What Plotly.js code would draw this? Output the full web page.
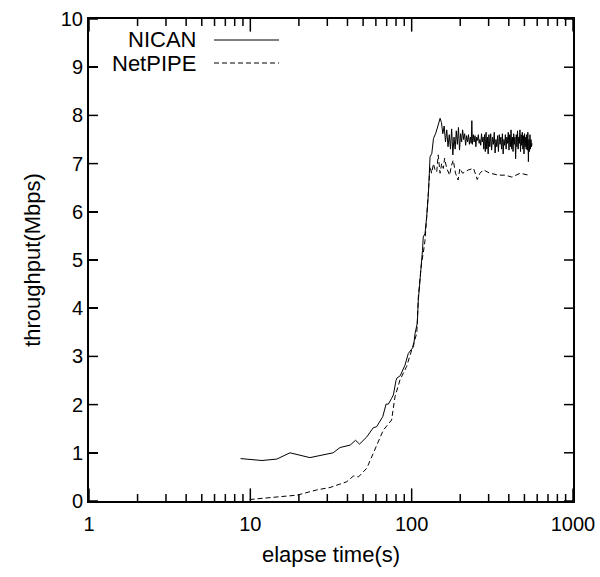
<!DOCTYPE html>
<html>
<head>
<meta charset="utf-8">
<script src="https://cdn.plot.ly/plotly-3.0.1.min.js"></script>
<style>html,body{margin:0;padding:0;background:#fff;}</style>
</head>
<body>
<div id="chart" style="width:600px;height:577px;"></div>
<script>
// NICAN series
const nicanX = [8.7, 11.8, 14.6, 17.6, 23.4, 32.6, 36, 41.6, 44.9, 47.5, 52.7, 57.8, 60.6, 66.2, 69.4, 71.7, 75.1, 77, 80, 81, 85, 90.9, 95.3, 102.6, 105, 108.4, 110, 112.6, 115, 116.7, 118, 121, 123.9, 127, 130, 133.3, 136.5, 141, 146, 150,
  153, 156, 159, 162, 165, 168, 171, 174, 177, 180, 183, 186, 189, 192, 195, 198, 201, 204, 207, 210, 213, 216, 219, 222, 225, 228, 231, 234, 236, 238, 241, 244, 247, 250, 253, 256, 259, 262, 265, 268, 271, 274, 277, 280, 283, 286, 289, 292, 295, 298,
  301, 305, 309, 313, 317, 321, 325, 329, 333, 337, 341, 345, 349, 353, 357, 361, 365, 369, 373, 377, 381, 385, 389, 393, 397, 401, 405, 409, 413, 417, 421, 425, 429, 433, 437, 441, 445, 449, 453, 457, 461, 465, 469, 473, 477, 481, 485, 489, 493, 497,
  501, 505, 509, 513, 517, 521, 525, 529, 533, 537, 541, 545, 549, 553, 557];
const nicanY = [0.88, 0.84, 0.87, 1.0, 0.90, 1.0, 1.11, 1.16, 1.26, 1.18, 1.33, 1.52, 1.54, 1.75, 2.01, 2.01, 2.13, 2.2, 2.5, 2.55, 2.6, 2.82, 3.06, 3.2, 3.48, 3.69, 4.17, 4.52, 4.93, 5.2, 5.48, 5.55, 5.9, 6.38, 7.14, 7.21, 7.52, 7.63, 7.8, 7.94,
  7.85, 7.62, 7.78, 7.45, 7.7, 7.35, 7.6, 7.3, 7.72, 7.18, 7.55, 7.3, 7.68, 7.4, 7.75, 7.28, 7.62, 7.45, 7.7, 7.5, 7.62, 7.38, 7.58, 7.45, 7.6, 7.4, 7.55, 7.42, 7.89, 7.4, 7.6, 7.45, 7.58, 7.35, 7.55, 7.48, 7.6, 7.42, 7.5, 7.38, 7.62, 7.45, 7.55, 7.3, 7.6, 7.25, 7.65, 7.3, 7.55, 7.2,
  7.6, 7.35, 7.62, 7.28, 7.55, 7.4, 7.65, 7.22, 7.5, 7.35, 7.58, 7.25, 7.6, 7.4, 7.55, 7.3, 7.62, 7.2, 7.5, 7.38, 7.6, 7.3, 7.55, 7.42, 7.65, 7.28, 7.6, 7.35, 7.7, 7.3, 7.55, 7.25, 7.62, 7.4, 7.55, 7.1, 7.6, 7.35, 7.68, 7.3, 7.55, 7.42, 7.7, 7.25, 7.6, 7.38, 7.65, 7.3, 7.58, 7.2,
  7.62, 7.35, 7.55, 7.3, 7.6, 7.28, 7.65, 7.04, 7.5, 7.25, 7.6, 7.3, 7.5, 7.35, 7.42];

// NetPIPE series
const netpipeX = [9.9, 12, 15.3, 19.4, 25.8, 31.2, 39.6, 43.6, 46.8, 52.7, 59.3, 66.7, 75.1, 78.8, 84.6, 93, 100, 107.6, 110, 115, 118, 121, 124, 127, 130, 133, 136.5, 140, 143, 146, 150, 153.5, 157, 160, 165, 172, 176, 181, 187, 194, 199, 207, 215, 225, 242, 255, 265, 278, 306, 346, 380, 418, 470, 530];
const netpipeY = [0.03, 0.05, 0.09, 0.12, 0.23, 0.28, 0.40, 0.52, 0.50, 0.68, 1.09, 1.47, 1.68, 2.16, 2.51, 2.79, 3.13, 3.48, 4.24, 4.93, 5.14, 5.41, 5.9, 6.38, 6.94, 6.8, 7.0, 6.85, 6.83, 7.18, 6.8, 7.0, 6.9, 7.11, 6.9, 6.76, 6.95, 7.07, 6.8, 6.66, 6.9, 6.8, 6.83, 6.87, 6.9, 6.67, 6.8, 6.87, 6.8, 6.76, 6.76, 6.72, 6.8, 6.76];

const seriesNames = ["NICAN", "NetPIPE"];
const xTickVals = [1, 10, 100, 1000];
const xTickText = ["1", "10", "100", "1000"];
const xMinorVals = [2, 3, 4, 5, 6, 7, 8, 9, 20, 30, 40, 50, 60, 70, 80, 90, 200, 300, 400, 500, 600, 700, 800, 900];
const yTickVals = [0, 1, 2, 3, 4, 5, 6, 7, 8, 9, 10];
const Y_RANGE = [0, 10];

const FONT = "Liberation Sans, Arial, sans-serif";
const PW = 484, PH = 482;          // plot area size in px
const MAJ = 9, MIN = 5;            // tick lengths in px
const X_LOG_RANGE = [0, 3];

// x tick marks (bottom and top, inward): vertical-line markers centred on the
// frame, the outer half clipped away by the plot area
function tickMarkerTrace(vals, lenPx) {
  const xs = [], ys = [];
  vals.forEach(v => { xs.push(v, v); ys.push(Y_RANGE[0], Y_RANGE[1]); });
  return {
    x: xs, y: ys, mode: "markers", showlegend: false, hoverinfo: "skip", cliponaxis: true,
    marker: {symbol: "line-ns-open", size: 2 * lenPx, color: "#000", line: {color: "#000", width: 1.5}}
  };
}

const traces = [
  {x: nicanX, y: nicanY, mode: "lines", name: seriesNames[0], line: {color: "#000", width: 1}},
  {x: netpipeX, y: netpipeY, mode: "lines", name: seriesNames[1], line: {color: "#000", width: 1, dash: "5px,3px"}},
  tickMarkerTrace(xTickVals, MAJ),
  tickMarkerTrace(xMinorVals, MIN)
];

// y tick marks (left and right, inward)
const tickLine = {color: "#000", width: 1.5};
const shapes = [];
yTickVals.forEach(v => {
  shapes.push({type: "line", xref: "paper", yref: "y", x0: 0, x1: MAJ / PW, y0: v, y1: v, line: tickLine, layer: "above"});
  shapes.push({type: "line", xref: "paper", yref: "y", x0: 1 - MAJ / PW, x1: 1, y0: v, y1: v, line: tickLine, layer: "above"});
});
// legend (gnuplot style: label then sample line)
const legY = [(501 - 40) / PH, (501 - 63) / PH];
const legX0 = (214 - 89) / PW, legX1 = (279 - 89) / PW, legTextX = (198 - 89) / PW;
shapes.push({type: "line", xref: "paper", yref: "paper", x0: legX0, x1: legX1, y0: legY[0], y1: legY[0], line: {color: "#000", width: 1}});
shapes.push({type: "line", xref: "paper", yref: "paper", x0: legX0, x1: legX1, y0: legY[1], y1: legY[1], line: {color: "#000", width: 1, dash: "5px,3px"}});

const layout = {
  width: 600, height: 577,
  margin: {l: 89, r: 27, t: 19, b: 76},
  paper_bgcolor: "#fff", plot_bgcolor: "#fff",
  showlegend: false,
  font: {family: FONT, size: 20, color: "#000"},
  xaxis: {
    type: "log", range: X_LOG_RANGE,
    tickmode: "array", tickvals: xTickVals, ticktext: xTickText,
    ticks: "outside", ticklen: 4, tickwidth: 1, tickcolor: "rgba(0,0,0,0)",
    showline: true, linecolor: "#000", linewidth: 2, mirror: true,
    showgrid: false, zeroline: false,
    tickfont: {family: FONT, size: 20, color: "#000"},
    title: {text: "elapse time(s)", font: {family: FONT, size: 22, color: "#000"}, standoff: 13}
  },
  yaxis: {
    range: Y_RANGE,
    tickmode: "array", tickvals: yTickVals,
    ticks: "inside", ticklen: MAJ, tickwidth: 1.5, tickcolor: "#000",
    showline: true, linecolor: "#000", linewidth: 2, mirror: true,
    showgrid: false, zeroline: false,
    tickfont: {family: FONT, size: 20, color: "#000"},
    title: {text: "throughput(Mbps)", font: {family: FONT, size: 22, color: "#000"}, standoff: 14}
  },
  annotations: [
    {xref: "paper", yref: "paper", x: legTextX, y: legY[0], xanchor: "right", yanchor: "middle", text: seriesNames[0], showarrow: false, font: {family: FONT, size: 22, color: "#000"}},
    {xref: "paper", yref: "paper", x: legTextX, y: legY[1], xanchor: "right", yanchor: "middle", text: seriesNames[1], showarrow: false, font: {family: FONT, size: 22, color: "#000"}}
  ],
  shapes: shapes
};

Plotly.newPlot("chart", traces, layout, {staticPlot: true, displayModeBar: false});
</script>
</body>
</html>
